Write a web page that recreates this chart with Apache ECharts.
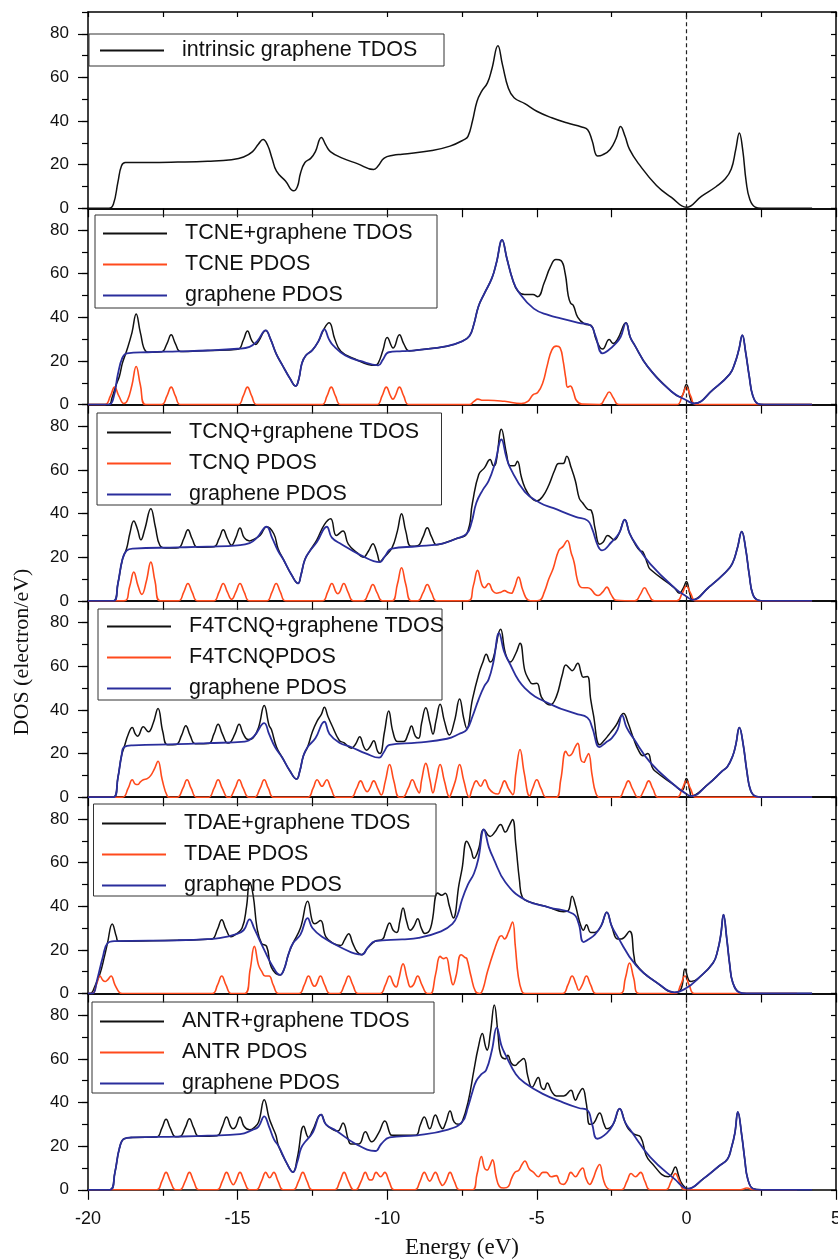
<!DOCTYPE html>
<html><head><meta charset="utf-8">
<script src="https://cdn.jsdelivr.net/npm/echarts@6/dist/echarts.min.js"></script>
<style>html,body{margin:0;padding:0;background:#fff}#c{width:838px;height:1260px}</style>
</head><body><div id="c"></div>
<script>
const xTickLabels = ['-20','-15','-10','-5','0','5'];
const yTickLabels = ['0','20','40','60','80'];
const panelNames = [
  ['intrinsic graphene TDOS'],
  ['TCNE+graphene TDOS','TCNE PDOS','graphene PDOS'],
  ['TCNQ+graphene TDOS','TCNQ PDOS','graphene PDOS'],
  ['F4TCNQ+graphene TDOS','F4TCNQPDOS','graphene PDOS'],
  ['TDAE+graphene TDOS','TDAE PDOS','graphene PDOS'],
  ['ANTR+graphene TDOS','ANTR PDOS','graphene PDOS']
];

// Panel 1: intrinsic graphene
const intrinsicTDOS = [[-20,0],[-19.3,0],[-19.15,2],[-19.0,12],[-18.88,19.5],[-18.75,21],[-18,21],[-17,21.2],[-16,21.6],[-15.2,22.3],[-14.8,23.5],[-14.5,26],[-14.3,29.5],[-14.15,31.5],[-14.0,29],[-13.85,23],[-13.7,17],[-13.4,12.5],[-13.13,8],[-13.0,10],[-12.9,16],[-12.75,21],[-12.55,23],[-12.4,26],[-12.2,32.5],[-12.05,29],[-11.9,26],[-11.5,23],[-11,20.5],[-10.45,17.8],[-10.3,19.5],[-10.1,23],[-9.8,24.3],[-9.5,24.8],[-8.5,26.5],[-7.9,28.5],[-7.43,31.5],[-7.3,33],[-7.15,40],[-7.0,49],[-6.85,53.5],[-6.65,57.5],[-6.5,64],[-6.3,74.5],[-6.15,66],[-5.95,55],[-5.76,50.7],[-5.4,48],[-5.0,44.5],[-4.5,41.5],[-4.0,39.2],[-3.5,37.3],[-3.3,36],[-3.15,31],[-2.97,24],[-2.8,24.5],[-2.55,27],[-2.35,32],[-2.2,37.5],[-2.05,33],[-1.9,27],[-1.6,20.5],[-1.0,10.5],[-0.5,5],[0,0.5],[0.5,5.5],[1.0,10],[1.3,13.5],[1.5,18],[1.65,27],[1.77,34.5],[1.88,27],[2.0,12],[2.12,4],[2.3,0.5],[2.5,0],[4.2,0]];

// Panel 2: TCNE
const tcneTDOS = [[-20,0],[-19.3,0],[-19.2,3],[-19.06,9],[-18.95,13],[-18.85,19],[-18.7,25],[-18.53,33],[-18.39,41.5],[-18.25,33],[-18.07,24.5],[-17.9,24],[-17.54,24.2],[-17.36,28],[-17.22,32],[-17.08,28],[-16.9,24.3],[-16,24.8],[-14.99,25.4],[-14.81,29.5],[-14.67,33.8],[-14.53,29.5],[-14.4,27.5],[-14.3,29],[-14.06,34],[-13.9,30],[-13.7,23],[-13.5,18],[-13.25,12],[-13.06,8.5],[-12.95,12],[-12.85,19],[-12.72,22.5],[-12.5,25],[-12.3,29],[-12.1,35],[-11.94,37.5],[-11.75,30],[-11.55,24.5],[-11.1,21],[-10.4,18],[-10.3,19],[-10.14,25],[-10.0,30.8],[-9.8,26],[-9.59,32],[-9.45,28],[-9.27,24.6],[-9,25],[-8,26.8],[-7.5,29],[-7.25,31.5],[-7.1,37],[-6.95,45],[-6.75,51],[-6.5,58],[-6.35,65],[-6.16,75.5],[-6.0,67],[-5.8,57],[-5.63,52],[-5.41,50.5],[-5.13,50.5],[-4.97,49.5],[-4.75,56],[-4.55,63],[-4.36,66.5],[-4.19,66],[-4.05,60],[-3.95,50],[-3.87,46.5],[-3.78,45.5],[-3.63,40],[-3.41,37],[-3.19,36.3],[-3.02,30],[-2.9,26.5],[-2.8,25.5],[-2.58,29.8],[-2.45,28],[-2.3,30],[-2.02,37.5],[-1.88,31],[-1.74,27.5],[-1.3,17.5],[-0.5,6],[-0.19,3.5],[0,9.2],[0.15,2],[0.26,0.5],[0.9,7],[1.45,14],[1.62,19],[1.75,25],[1.87,31.8],[1.98,24],[2.1,13],[2.22,4],[2.4,0.3],[2.6,0],[4.2,0]];
const tcnePDOS = [[-20,0],[-19.43,0],[-19.25,4],[-19.11,8],[-18.97,4],[-18.8,0.5],[-18.68,2],[-18.53,9],[-18.39,17.5],[-18.25,9],[-18.07,0],[-17.54,0],[-17.36,4],[-17.22,8],[-17.08,4],[-16.9,0],[-14.99,0],[-14.81,4],[-14.67,8],[-14.53,4],[-14.35,0],[-12.19,0],[-12.01,4],[-11.87,8],[-11.73,4],[-11.55,0],[-10.35,0],[-10.17,4],[-10.03,8],[-9.89,4],[-9.81,2.5],[-9.73,4],[-9.59,8],[-9.45,4],[-9.27,0],[-7.25,0],[-7.1,1.5],[-6.97,2.5],[-6.8,2],[-6.63,2],[-6.08,1.5],[-5.52,0.5],[-5.3,1.5],[-5.13,4.5],[-4.97,5.5],[-4.8,10],[-4.65,18],[-4.5,25],[-4.35,26.8],[-4.22,26],[-4.12,20],[-4.03,12],[-3.97,8],[-3.88,8.5],[-3.78,6],[-3.68,2],[-3.5,0.2],[-2.9,0],[-2.72,3],[-2.58,5.8],[-2.44,3],[-2.26,0],[-0.32,0],[-0.14,4],[0,8],[0.14,4],[0.32,0],[4.2,0]];
const tcneGraphene = [[-20,0],[-19.3,0],[-19.15,3],[-19.0,14],[-18.85,21.5],[-18.7,23.5],[-18,24],[-17,24.4],[-16,24.8],[-15,25.6],[-14.6,26.5],[-14.35,29],[-14.06,34],[-13.9,30],[-13.7,23],[-13.5,18],[-13.25,12],[-13.06,8.5],[-12.95,12],[-12.85,19],[-12.72,22.5],[-12.5,25],[-12.3,29],[-12.1,34.5],[-11.95,30],[-11.8,27],[-11.4,22.5],[-10.9,20],[-10.3,18],[-10.15,20.5],[-9.95,24],[-9.5,24.5],[-9,25],[-8,26.8],[-7.5,29],[-7.25,31.5],[-7.1,37],[-6.95,45],[-6.75,51],[-6.5,58],[-6.35,65],[-6.16,75.5],[-6.0,67],[-5.8,57],[-5.6,51.5],[-5.1,44],[-4.6,41],[-4.2,39.5],[-3.6,37.5],[-3.2,36.3],[-3.05,32],[-2.8,23.5],[-2.6,25],[-2.4,27.5],[-2.2,31],[-2.02,37.5],[-1.88,31],[-1.74,27.5],[-1.3,17.5],[-0.5,6],[0,2],[0.26,0.5],[0.9,7],[1.45,14],[1.62,19],[1.75,25],[1.87,31.8],[1.98,24],[2.1,13],[2.22,4],[2.4,0.3],[2.6,0],[4.2,0]];

// Panel 3: TCNQ
const tcnqTDOS = [[-20,0],[-19.15,0],[-19.0,8],[-18.85,19],[-18.71,24],[-18.6,31],[-18.47,36.6],[-18.35,33],[-18.23,28],[-18.1,33],[-17.9,42.3],[-17.75,34],[-17.6,25.5],[-17.4,24.2],[-16.98,24.4],[-16.8,28.5],[-16.66,32.6],[-16.52,28.5],[-16.34,24.6],[-15.8,24.8],[-15.62,28.5],[-15.48,32.6],[-15.34,28.5],[-15.2,25.5],[-15.06,29],[-14.92,33.4],[-14.78,29],[-14.6,27.5],[-14.5,28],[-14.25,30],[-14.03,34],[-13.79,30.8],[-13.65,24],[-13.47,19],[-13.2,12],[-12.98,8],[-12.88,12],[-12.75,19],[-12.58,23],[-12.35,28],[-12.1,35],[-11.89,37.7],[-11.7,30],[-11.48,32],[-11.3,26],[-11.0,22],[-10.8,20],[-10.62,23],[-10.48,26.2],[-10.34,22],[-10.24,18],[-10.1,20],[-9.84,24.3],[-9.66,32],[-9.52,40],[-9.38,32],[-9.2,25],[-8.98,25.3],[-8.8,29.5],[-8.66,33.5],[-8.52,29.5],[-8.34,25.7],[-8.15,26.3],[-7.7,28.5],[-7.34,30.8],[-7.15,45],[-6.94,58],[-6.75,61],[-6.56,64.8],[-6.45,62],[-6.37,63],[-6.18,78.7],[-6.02,68],[-5.89,62],[-5.75,62],[-5.65,64],[-5.52,57],[-5.4,52],[-5.2,47.5],[-5.0,45.8],[-4.8,48],[-4.6,53],[-4.4,60],[-4.27,63],[-4.12,63],[-4.0,66.3],[-3.85,61],[-3.71,55],[-3.58,47],[-3.47,45],[-3.3,42],[-3.18,41.5],[-3.05,33],[-2.9,26],[-2.78,27],[-2.63,30],[-2.42,28],[-2.25,31],[-2.06,37.2],[-1.9,31],[-1.69,25.5],[-1.55,23],[-1.45,22.4],[-1.3,17],[-1.21,14.5],[-0.4,6],[-0.24,3.5],[-0.1,6],[0,8.9],[0.12,3],[0.21,0.5],[0.73,6],[1.3,13],[1.53,17],[1.7,24],[1.85,31.8],[1.98,24],[2.1,12],[2.22,3],[2.4,0.3],[2.6,0],[4.2,0]];
const tcnqPDOS = [[-20,0],[-18.8,0],[-18.61,6.5],[-18.47,13.2],[-18.33,7],[-18.2,3],[-18.05,9],[-17.9,17.8],[-17.76,9],[-17.58,0],[-16.98,0],[-16.8,4],[-16.66,8],[-16.52,4],[-16.34,0],[-15.8,0],[-15.62,4],[-15.48,8],[-15.34,4],[-15.2,0.7],[-15.06,4],[-14.92,8],[-14.78,4],[-14.6,0],[-14.03,0],[-13.85,4],[-13.71,8],[-13.57,4],[-13.39,0],[-12.17,0],[-11.99,4],[-11.85,8],[-11.71,4],[-11.65,3.3],[-11.59,4],[-11.45,8],[-11.31,4],[-11.13,0],[-10.8,0],[-10.62,3.8],[-10.48,7.5],[-10.34,3.8],[-10.16,0],[-9.84,0],[-9.66,7.6],[-9.52,15.2],[-9.38,7.6],[-9.2,0],[-8.98,0],[-8.8,3.8],[-8.66,7.5],[-8.52,3.8],[-8.34,0],[-7.3,0],[-7.12,7],[-6.98,14],[-6.84,7.5],[-6.75,6],[-6.61,8],[-6.47,4.5],[-6.35,3.5],[-6.2,4],[-6.08,4.7],[-5.95,3.8],[-5.85,3.5],[-5.75,6],[-5.61,10.9],[-5.47,5],[-5.3,0.5],[-5.1,0],[-4.9,0.3],[-4.75,4],[-4.6,10],[-4.45,15],[-4.27,23],[-4.12,25],[-3.98,27.7],[-3.85,22],[-3.75,17.5],[-3.65,10],[-3.55,6.5],[-3.42,6],[-3.3,6],[-3.18,5.2],[-3.05,3],[-2.95,2.5],[-2.8,4],[-2.66,6.3],[-2.52,3],[-2.35,0.3],[-1.72,0],[-1.54,3],[-1.4,6],[-1.26,3],[-1.08,0],[-0.32,0],[-0.14,3.5],[0,6.9],[0.14,3.5],[0.32,0],[4.2,0]];
const tcnqGraphene = [[-20,0],[-19.15,0],[-19.0,8],[-18.85,19],[-18.71,23],[-18.5,24],[-17,24.5],[-16,24.9],[-15,25.5],[-14.6,26.5],[-14.35,29],[-14.03,34],[-13.85,29],[-13.65,23],[-13.47,19],[-13.2,12],[-12.98,8],[-12.88,12],[-12.75,19],[-12.58,23],[-12.35,27],[-12.02,34],[-11.85,29],[-11.53,26],[-10.89,21],[-10.24,17.8],[-10.1,20],[-9.84,24],[-9,25],[-8.15,26.3],[-7.7,28.5],[-7.34,30.8],[-7.18,36],[-7.02,45],[-6.8,51],[-6.61,55],[-6.4,63],[-6.18,74],[-6.02,66],[-5.89,61],[-5.4,50],[-4.9,45],[-4.44,42.5],[-3.7,38.5],[-3.3,36.8],[-3.15,33],[-2.95,25],[-2.82,23.2],[-2.5,27],[-2.25,31],[-2.06,37.2],[-1.9,31],[-1.69,26],[-1.21,17],[-0.4,6],[0,2],[0.21,0.5],[0.73,6],[1.3,13],[1.53,17],[1.7,24],[1.85,31.8],[1.98,24],[2.1,12],[2.22,3],[2.4,0.3],[2.6,0],[4.2,0]];

// Panel 4: F4TCNQ
const f4tcnqTDOS = [[-20,0],[-19.15,0],[-19.0,9],[-18.88,19],[-18.79,23],[-18.65,29],[-18.52,31.9],[-18.42,29],[-18.34,28],[-18.15,32.3],[-17.98,30],[-17.82,34],[-17.66,40.7],[-17.5,30],[-17.34,24],[-17.05,24.2],[-16.87,28.5],[-16.73,32.8],[-16.59,28.5],[-16.41,24.5],[-15.97,24.6],[-15.79,29],[-15.65,33.4],[-15.51,29],[-15.33,24.8],[-15.27,24.9],[-15.09,29],[-14.95,33.4],[-14.81,29],[-14.65,26.5],[-14.5,27],[-14.3,32],[-14.11,42.1],[-13.95,33],[-13.87,31],[-13.7,23],[-13.5,18],[-13.25,12],[-13.03,8.3],[-12.92,12],[-12.8,19],[-12.66,23],[-12.5,30],[-12.34,35],[-12.2,38],[-12.1,41.2],[-11.98,37],[-11.85,33],[-11.6,26],[-11.45,25],[-11.2,22.5],[-11.05,24.5],[-10.92,27.7],[-10.78,23],[-10.69,21.5],[-10.58,23],[-10.45,25.9],[-10.32,21],[-10.24,20],[-10.09,30],[-9.95,39.5],[-9.81,30],[-9.65,25.5],[-9.45,25.5],[-9.3,29],[-9.19,32.6],[-9.06,28],[-8.95,27],[-8.85,34],[-8.71,41],[-8.57,34],[-8.47,29],[-8.37,35],[-8.23,42.6],[-8.09,35],[-7.92,28.5],[-7.75,35],[-7.58,45],[-7.44,36],[-7.34,31.5],[-7.15,45],[-6.94,56.5],[-6.8,62],[-6.69,65.5],[-6.55,62],[-6.45,64],[-6.21,77],[-6.05,66],[-5.89,62],[-5.7,66],[-5.56,70.6],[-5.4,58],[-5.27,54],[-5.15,52],[-5.0,52.2],[-4.85,46],[-4.68,43],[-4.55,42.3],[-4.35,46],[-4.15,56],[-4.03,60.6],[-3.9,59],[-3.82,58],[-3.63,61.4],[-3.52,57],[-3.45,55],[-3.31,55.3],[-3.2,45],[-3.11,38],[-2.9,24],[-2.75,26],[-2.6,28.5],[-2.35,33],[-2.1,38.4],[-1.95,34],[-1.77,27],[-1.6,21.5],[-1.45,19],[-1.29,20],[-1.15,14],[-1.05,12],[-0.4,5.5],[-0.15,3],[0,8.6],[0.12,2.5],[0.16,0.5],[0.73,6],[1.2,12],[1.37,14],[1.55,19],[1.65,24],[1.77,31.9],[1.9,24],[2.02,12],[2.15,3],[2.34,0.3],[2.6,0],[4.2,0]];
const f4tcnqPDOS = [[-20,0],[-18.85,0],[-18.66,4],[-18.52,8],[-18.42,6],[-18.34,5.8],[-18.25,7],[-18.15,8],[-18.02,8.5],[-17.9,10],[-17.78,13],[-17.66,16.5],[-17.52,8],[-17.35,0.5],[-17.25,0],[-17.01,0],[-16.83,4],[-16.69,8],[-16.55,4],[-16.37,0],[-15.97,0],[-15.79,4],[-15.65,8],[-15.51,4],[-15.33,0],[-15.27,0],[-15.09,4],[-14.95,8],[-14.81,4],[-14.63,0],[-14.43,0],[-14.25,4],[-14.11,8],[-13.97,4],[-13.79,0],[-12.66,0],[-12.48,4],[-12.34,8],[-12.18,5],[-12.02,8],[-11.88,4],[-11.7,0],[-11.21,0],[-11.03,3.8],[-10.89,7.5],[-10.75,3.8],[-10.67,2.5],[-10.59,3.8],[-10.45,7.5],[-10.31,3.8],[-10.2,1],[-10.06,7.5],[-9.92,15],[-9.78,7.5],[-9.6,0],[-9.48,0],[-9.3,4],[-9.16,8],[-9.02,4],[-8.93,2],[-8.85,7.8],[-8.71,15.5],[-8.57,7.8],[-8.47,2],[-8.37,7.5],[-8.23,15],[-8.09,7.5],[-7.91,0],[-7.9,0],[-7.72,7.5],[-7.58,15],[-7.44,7.5],[-7.26,0],[-7.16,3.8],[-7.02,7.5],[-6.88,5],[-6.74,8],[-6.6,4],[-6.45,2],[-6.3,1.5],[-6.2,4],[-6.08,7.5],[-5.94,3.8],[-5.8,1.2],[-5.7,11],[-5.56,21.9],[-5.42,11],[-5.24,0.5],[-5.14,4],[-5.0,8],[-4.86,4],[-4.68,0],[-4.35,0],[-4.2,8],[-4.03,21],[-3.92,19],[-3.82,20],[-3.72,23],[-3.63,24.7],[-3.52,17],[-3.43,16],[-3.35,18],[-3.27,20],[-3.15,10],[-3.03,2],[-2.9,0],[-2.26,0],[-2.08,3.8],[-1.94,7.5],[-1.8,3.8],[-1.62,0],[-1.58,0],[-1.4,3.8],[-1.26,7.5],[-1.12,3.8],[-0.94,0],[-0.32,0],[-0.14,3.8],[0,7.5],[0.14,3.8],[0.32,0],[4.2,0]];
const f4tcnqGraphene = [[-20,0],[-19.15,0],[-19.0,9],[-18.88,19],[-18.79,23],[-18.5,23.8],[-17,24.3],[-16,24.8],[-14.76,25.5],[-14.45,28],[-14.11,34],[-13.95,29],[-13.75,23],[-13.5,18],[-13.25,12],[-13.03,8.3],[-12.92,12],[-12.8,19],[-12.66,23],[-12.4,27],[-12.1,34.6],[-11.93,29],[-11.6,25],[-11.21,23],[-10.7,20],[-10.27,18.1],[-10.12,20.5],[-9.92,24],[-9,25],[-8,26.8],[-7.6,29],[-7.34,31],[-7.15,37],[-6.94,45],[-6.75,51],[-6.61,54],[-6.45,62],[-6.26,75.2],[-6.1,67],[-5.97,63],[-5.4,50],[-4.44,42],[-3.7,38.3],[-3.31,36.5],[-3.15,32],[-2.9,23],[-2.7,25],[-2.5,27],[-2.3,31],[-2.15,37.5],[-2.0,32],[-1.77,27],[-1.21,16],[-0.4,5.5],[0,1.5],[0.16,0.5],[0.73,6],[1.2,12],[1.37,14],[1.55,19],[1.65,24],[1.77,31.9],[1.9,24],[2.02,12],[2.15,3],[2.34,0.3],[2.6,0],[4.2,0]];

// Panel 5: TDAE
const tdaeTDOS = [[-20,0],[-19.92,0],[-19.75,4],[-19.6,9],[-19.45,17],[-19.35,23],[-19.19,31.9],[-19.05,26],[-18.98,24],[-17,24.4],[-16,24.9],[-15.85,25],[-15.67,29.5],[-15.53,33.8],[-15.39,29.5],[-15.22,26],[-15.08,27],[-14.85,30],[-14.7,40],[-14.6,51],[-14.48,45],[-14.35,30],[-14.2,23],[-14.03,21.6],[-13.87,12],[-13.58,8.5],[-13.45,11],[-13.3,18],[-13.15,23],[-12.9,30],[-12.66,42.3],[-12.5,33],[-12.42,32],[-12.23,33.5],[-12.05,26],[-11.8,23],[-11.55,22],[-11.43,24.5],[-11.29,27.4],[-11.15,23],[-11.0,19],[-10.85,17.8],[-10.65,21],[-10.4,24],[-10.15,25],[-10.05,28.5],[-9.92,32.3],[-9.8,29],[-9.68,28],[-9.58,33],[-9.47,39.2],[-9.35,33],[-9.23,29],[-9.1,31],[-8.98,34.3],[-8.86,30],[-8.74,27.5],[-8.55,30],[-8.31,46.1],[-8.18,45],[-8.06,46],[-7.92,40],[-7.79,34.6],[-7.6,50],[-7.5,57],[-7.34,69.8],[-7.2,66],[-7.1,62],[-6.95,66],[-6.77,75.2],[-6.56,72],[-6.4,74],[-6.21,77.5],[-6.05,74],[-5.92,77],[-5.81,79.8],[-5.7,68],[-5.58,52],[-5.48,44],[-5.24,42],[-4.6,39.5],[-4.1,37.5],[-3.95,38],[-3.82,44.6],[-3.7,40],[-3.63,36],[-3.55,32],[-3.44,29],[-3.34,31.5],[-3.2,28],[-3.06,28],[-2.85,31],[-2.66,37.2],[-2.5,31],[-2.3,25],[-2.18,25],[-1.9,28.5],[-1.75,17],[-1.69,13.5],[-0.89,4],[-0.4,0.5],[-0.18,2],[-0.05,11.2],[0.08,6],[0.16,5.5],[0.4,7],[0.89,14],[1.05,20],[1.15,27],[1.24,36.1],[1.35,25],[1.45,13],[1.55,5],[1.77,0.5],[2.0,0],[4.2,0]];
const tdaePDOS = [[-20,0],[-19.85,0],[-19.72,4],[-19.6,8],[-19.5,6],[-19.42,5.5],[-19.33,6.5],[-19.23,8],[-19.1,4],[-18.95,0.5],[-18.85,0],[-15.85,0],[-15.67,4],[-15.53,8],[-15.39,4],[-15.21,0],[-14.76,0],[-14.58,11],[-14.44,21.6],[-14.3,13],[-14.19,10],[-14.08,8],[-13.95,8],[-13.81,4],[-13.63,0],[-12.95,0],[-12.77,4],[-12.63,8],[-12.49,4],[-12.43,3.3],[-12.37,4],[-12.23,8],[-12.09,4],[-11.91,0],[-11.61,0],[-11.43,4],[-11.29,8],[-11.15,4],[-10.97,0],[-10.24,0],[-10.06,4],[-9.92,8],[-9.78,4],[-9.7,3],[-9.61,6.8],[-9.47,13.6],[-9.33,6.8],[-9.22,3],[-9.12,4],[-8.98,8],[-8.84,4],[-8.66,0],[-8.55,0],[-8.38,9],[-8.23,17],[-8.12,16],[-8.03,16.5],[-7.9,9],[-7.8,4],[-7.7,8],[-7.53,17.8],[-7.4,16.5],[-7.34,16],[-7.2,8],[-7.05,1],[-6.9,0],[-6.8,2],[-6.65,10],[-6.42,20],[-6.25,26],[-6.18,26.5],[-6.08,25],[-5.95,28],[-5.81,32.8],[-5.72,22],[-5.62,8],[-5.5,1],[-5.4,0],[-4.14,0],[-3.96,4],[-3.82,8],[-3.68,4],[-3.6,1.5],[-3.48,4],[-3.34,8],[-3.2,4],[-3.02,0],[-2.22,0],[-2.04,7],[-1.9,14],[-1.76,7],[-1.58,0],[-0.37,0],[-0.19,4],[-0.05,8],[0.09,4],[0.27,0],[3.7,0]];
const tdaeGraphene = [[-20,0],[-19.84,0],[-19.7,6],[-19.5,17],[-19.35,23],[-19.1,24],[-17,24.4],[-16,24.9],[-15.56,25.5],[-15.1,27],[-14.8,29],[-14.6,34],[-14.45,30],[-14.25,24],[-14.11,20],[-13.85,13],[-13.58,8.5],[-13.45,11],[-13.3,18],[-13.15,23],[-12.9,27],[-12.66,34.6],[-12.5,30],[-12.18,26],[-11.53,21],[-10.85,17.8],[-10.65,21],[-10.4,24],[-9.5,24.8],[-8.95,25.5],[-8.2,28.5],[-7.82,31.9],[-7.65,36],[-7.5,43],[-7.3,50],[-7.1,55],[-6.95,62],[-6.77,75.2],[-6.6,67],[-6.45,62],[-6.05,51],[-5.4,43],[-4.6,39.5],[-3.79,36.6],[-3.6,32],[-3.44,23.6],[-3.25,25],[-3.06,27],[-2.85,31],[-2.66,37.2],[-2.5,31],[-2.34,27],[-1.69,13],[-0.89,4],[-0.4,0.5],[0,2.5],[0.4,7],[0.89,14],[1.05,20],[1.15,27],[1.24,36.1],[1.35,25],[1.45,13],[1.55,5],[1.77,0.5],[2.0,0],[4.2,0]];

// Panel 6: ANTR
const antrTDOS = [[-20,0],[-19.27,0],[-19.1,8],[-18.95,19],[-18.79,23.4],[-18.5,24],[-17.71,24.2],[-17.53,28.3],[-17.39,32.3],[-17.25,28.3],[-17.07,24.3],[-16.93,24.4],[-16.75,28.5],[-16.61,32.6],[-16.47,28.5],[-16.29,24.5],[-15.69,24.8],[-15.51,29],[-15.37,33.4],[-15.23,29],[-15.15,28],[-15.06,29],[-14.92,33.4],[-14.78,29],[-14.6,27.5],[-14.45,28.5],[-14.3,31],[-14.11,41.3],[-13.95,33],[-13.84,29],[-13.72,25],[-13.63,20],[-13.35,12],[-13.15,8.1],[-13.0,15],[-12.79,29.1],[-12.63,24],[-12.5,27],[-12.21,34.5],[-12.05,30],[-11.8,27.5],[-11.65,27],[-11.48,30.6],[-11.3,23],[-11.21,21],[-10.95,21],[-10.73,26.6],[-10.52,22],[-10.29,26],[-10.08,31.5],[-9.9,25.5],[-9.84,25],[-9.05,25],[-8.9,29.5],[-8.76,33.4],[-8.58,28],[-8.39,34.3],[-8.25,30],[-8.15,28],[-8.04,31],[-7.9,36.1],[-7.76,31],[-7.6,30],[-7.5,31],[-7.3,40],[-7.1,55],[-6.96,65],[-6.82,71.7],[-6.72,66],[-6.66,64],[-6.55,72],[-6.42,84.7],[-6.3,72],[-6.21,62],[-6.05,60],[-5.97,61.7],[-5.85,58],[-5.73,57],[-5.6,58.5],[-5.44,60.2],[-5.3,52],[-5.16,47],[-4.95,51.5],[-4.85,47],[-4.76,46],[-4.65,49],[-4.5,45],[-4.35,43],[-4.1,43],[-3.86,45.6],[-3.75,42],[-3.71,41],[-3.6,44],[-3.47,46.4],[-3.35,40],[-3.23,30],[-3.1,30.5],[-2.9,35.2],[-2.75,30],[-2.66,28],[-2.45,30],[-2.23,37.2],[-2.05,31],[-1.94,28],[-1.75,25.5],[-1.53,24.2],[-1.35,16],[-1.21,13],[-0.6,6],[-0.5,7],[-0.37,10.4],[-0.25,6],[-0.16,3],[0.05,0.5],[0.56,5],[1.1,11],[1.37,14],[1.5,19],[1.62,26],[1.72,35.7],[1.85,25],[1.95,14],[2.05,5],[2.23,0.5],[2.5,0],[4.2,0]];
const antrPDOS = [[-20,0],[-17.71,0],[-17.53,4],[-17.39,8],[-17.25,4],[-17.07,0],[-16.93,0],[-16.75,4],[-16.61,8],[-16.47,4],[-16.29,0],[-15.69,0],[-15.51,4],[-15.37,8],[-15.23,4],[-15.145,2.3],[-15.06,4],[-14.92,8],[-14.78,4],[-14.6,0],[-14.38,0],[-14.2,4],[-14.06,8],[-13.93,5.5],[-13.79,8],[-13.65,4],[-13.47,0],[-13.14,0],[-12.96,4],[-12.82,8],[-12.68,4],[-12.5,0],[-11.76,0],[-11.58,4],[-11.44,8],[-11.3,4],[-11.12,0],[-11.05,0],[-10.87,4],[-10.73,8],[-10.6,4.6],[-10.55,4.5],[-10.5,4.6],[-10.37,8],[-10.22,6],[-10.08,8],[-9.94,4],[-9.76,0],[-9.08,0],[-8.9,4],[-8.76,8],[-8.58,4],[-8.39,8],[-8.25,4],[-8.15,2],[-8.04,4],[-7.9,8],[-7.76,4],[-7.58,0],[-7.15,0],[-7.0,7],[-6.85,15.3],[-6.75,10],[-6.66,9],[-6.57,11],[-6.48,13.8],[-6.36,6],[-6.25,1.5],[-6.1,0.8],[-5.95,1.5],[-5.85,5],[-5.73,8],[-5.6,9],[-5.5,11.5],[-5.4,13.2],[-5.25,9.5],[-5.11,8],[-4.95,6],[-4.8,8],[-4.68,8],[-4.52,6],[-4.35,6.5],[-4.22,3],[-4.1,2.5],[-4.0,4],[-3.86,8],[-3.71,6],[-3.55,9],[-3.47,10],[-3.35,5],[-3.23,2.5],[-3.12,5],[-3.0,9.5],[-2.9,11.6],[-2.78,5],[-2.66,1],[-2.5,0],[-2.17,0],[-1.99,3.8],[-1.85,7.5],[-1.7,6],[-1.53,8],[-1.39,4],[-1.21,0],[-0.69,0],[-0.51,3.8],[-0.37,7.5],[-0.23,3.8],[-0.05,0],[1.8,0],[2.02,0.8],[2.25,0],[3.7,0]];
const antrGraphene = [[-20,0],[-19.27,0],[-19.1,8],[-18.95,19],[-18.79,23.4],[-18.5,24],[-17,24.4],[-16,24.8],[-14.92,25.5],[-14.5,27.5],[-14.3,29],[-14.11,33.7],[-13.95,29],[-13.78,23],[-13.63,20],[-13.35,12],[-13.15,8.1],[-13.0,13],[-12.88,19],[-12.74,22],[-12.5,26],[-12.21,34.5],[-12.05,30],[-11.69,27],[-11.05,21],[-10.4,17.8],[-10.2,21],[-9.92,24],[-9,25],[-8,27.5],[-7.5,31],[-7.3,38],[-7.15,45],[-7.02,50],[-6.85,53],[-6.69,55],[-6.5,64],[-6.34,74.4],[-6.18,66],[-6.05,62],[-5.7,53],[-5.4,49],[-4.8,44],[-4.11,40],[-3.6,37.5],[-3.31,36.5],[-3.15,30],[-2.98,23.4],[-2.66,26],[-2.45,30],[-2.23,37.2],[-2.05,31],[-1.85,27],[-1.21,15],[-0.4,5],[0.05,0.5],[0.56,5],[1.1,11],[1.37,14],[1.5,19],[1.62,26],[1.72,35.7],[1.85,25],[1.95,14],[2.05,5],[2.23,0.5],[2.5,0],[4.2,0]];

const panelData = [
  [intrinsicTDOS],
  [tcneTDOS, tcnePDOS, tcneGraphene],
  [tcnqTDOS, tcnqPDOS, tcnqGraphene],
  [f4tcnqTDOS, f4tcnqPDOS, f4tcnqGraphene],
  [tdaeTDOS, tdaePDOS, tdaeGraphene],
  [antrTDOS, antrPDOS, antrGraphene]
];

// ---- layout / style ----
const COLORS = ['#111111', '#ff4a1c', '#2a2e9c'];
const WIDTHS = [1.5, 1.6, 1.8];
const SANS = 'Liberation Sans';
const GL = 88, GR = 2, TOP0 = 12, PH = 196.3;
const legendPos = [
  {left: 100, cy: 50, box: [89, 34, 444, 66]},
  {left: 103, cy: 233, box: [95, 215, 437, 308]},
  {left: 107, cy: 432, box: [97, 413, 441.5, 505]},
  {left: 107, cy: 626, box: [98, 609, 442, 700]},
  {left: 102, cy: 823, box: [93.5, 804, 436, 896]},
  {left: 100, cy: 1021, box: [92, 1002, 434, 1093]}
];

const grid = [], xAxis = [], yAxis = [], series = [], legend = [], graphic = [];
for (let i = 0; i < 6; i++) {
  const last = i === 5;
  grid.push({left: GL, right: GR, top: TOP0 + i * PH, height: PH, containLabel: false, outerBoundsMode: 'none'});
  const axLine = {show: true, onZero: false, lineStyle: {color: '#000', width: 1.5}};
  xAxis.push({
    type: 'value', gridIndex: i, min: -20, max: 5, interval: 5, position: 'bottom',
    axisLine: axLine, splitLine: {show: false},
    axisTick: {show: last, inside: false, length: 10, lineStyle: {color: '#000', width: 1.2}},
    minorTick: {show: last, splitNumber: 2, length: 6, lineStyle: {color: '#000', width: 1.2}},
    axisLabel: {show: last, fontFamily: SANS, fontSize: 18, color: '#111', margin: 20,
      formatter: v => { const s = String(v); return xTickLabels.indexOf(s) >= 0 ? s : ''; }}
  });
  xAxis.push({
    type: 'value', gridIndex: i, min: -20, max: 5, interval: 2.5, position: 'top',
    axisLine: axLine, splitLine: {show: false},
    axisTick: {show: true, inside: true, length: i === 0 ? 5 : 9, lineStyle: {color: '#000', width: 1.2}},
    axisLabel: {show: false}
  });
  yAxis.push({
    type: 'value', gridIndex: i, min: 0, max: 90, interval: 20, position: 'left',
    axisLine: axLine, splitLine: {show: false},
    axisTick: {show: true, inside: false, length: 10, lineStyle: {color: '#000', width: 1.2}},
    axisLabel: {show: true, fontFamily: SANS, fontSize: 17, color: '#111', margin: 19, showMaxLabel: false,
      formatter: v => { const s = String(v); return yTickLabels.indexOf(s) >= 0 ? s : ''; }}
  });
  yAxis.push({
    type: 'value', gridIndex: i, min: 0, max: 90, interval: 10, position: 'left',
    axisLine: {show: false, onZero: false}, splitLine: {show: false},
    axisTick: {show: true, inside: false, length: 6, lineStyle: {color: '#000', width: 1.2}},
    axisLabel: {show: false}
  });
  yAxis.push({
    type: 'value', gridIndex: i, min: 0, max: 90, interval: 10, position: 'right',
    axisLine: axLine, splitLine: {show: false},
    axisTick: {show: true, inside: true, length: 5, lineStyle: {color: '#000', width: 1.2}},
    axisLabel: {show: false}
  });
  const names = panelNames[i];
  panelData[i].forEach((d, k) => {
    const s = {
      type: 'line', name: names[k], xAxisIndex: 2 * i, yAxisIndex: 3 * i, data: d,
      showSymbol: false, symbol: 'none', smooth: 0.45, z: 2 + k,
      lineStyle: {color: COLORS[k], width: WIDTHS[k]}, itemStyle: {color: COLORS[k]},
      silent: true
    };
    if (k === 0) {
      s.markLine = {silent: true, symbol: 'none', label: {show: false},
        lineStyle: {color: '#222', type: [4, 3], width: 1.2},
        data: [{xAxis: 0}]};
    }
    series.push(s);
  });
  const lp = legendPos[i];
  legend.push({
    data: names, orient: 'vertical', left: lp.left, top: lp.cy - 10.5, padding: 0,
    itemGap: 9, itemWidth: 64, itemHeight: 2, icon: 'rect', selectedMode: false,
    textStyle: {fontFamily: SANS, fontSize: 21.5, lineHeight: 21, color: '#111', padding: [0, 0, 0, 13]}
  });
  const b = lp.box;
  graphic.push({type: 'rect', shape: {x: b[0], y: b[1], width: b[2] - b[0], height: b[3] - b[1]},
    style: {fill: null, stroke: '#333', lineWidth: 1}, z: 10, silent: true});
}
graphic.push({type: 'text', x: 462, y: 1248, style: {text: 'Energy (eV)', font: '23px "Liberation Serif"', fill: '#111', textAlign: 'center', textVerticalAlign: 'middle'}});
graphic.push({type: 'text', x: 22, y: 652, rotation: Math.PI / 2, style: {text: 'DOS (electron/eV)', font: '22px "Liberation Serif"', fill: '#111', textAlign: 'center', textVerticalAlign: 'middle'}});

const chart = echarts.init(document.getElementById('c'), null, {renderer: 'canvas'});
chart.setOption({animation: false, backgroundColor: '#fff', grid, xAxis, yAxis, series, legend, graphic});
</script>
</body></html>
